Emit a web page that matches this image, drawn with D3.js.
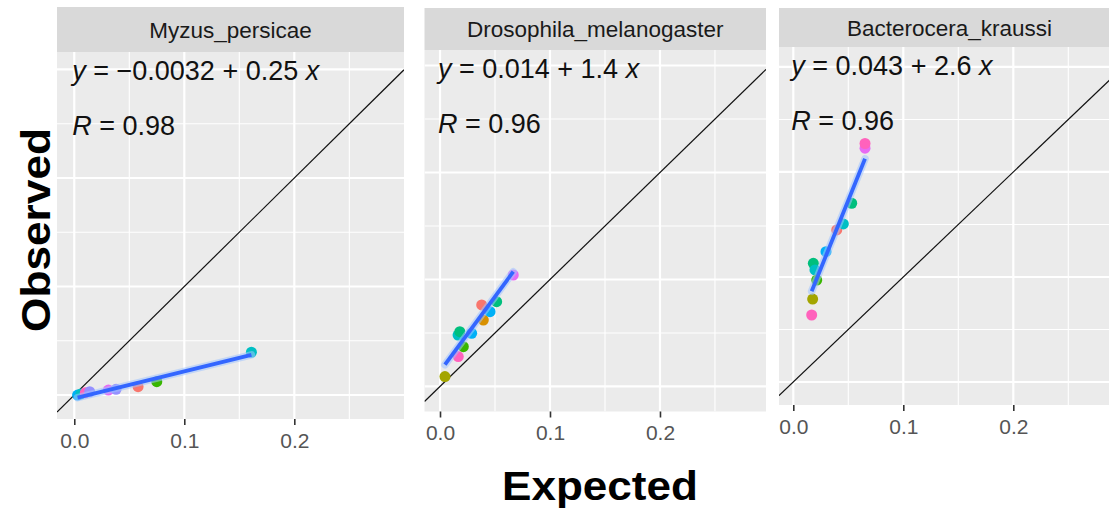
<!DOCTYPE html>
<html>
<head>
<meta charset="utf-8">
<script src="https://cdn.jsdelivr.net/npm/d3@7"></script>
<style>
  html, body { margin: 0; padding: 0; background: #fff; }
  svg { display: block; }
</style>
</head>
<body>
<svg id="chart" width="1109" height="512"></svg>
<script>
// facet names, one panel each
var facets = ['Myzus_persicae', 'Drosophila_melanogaster', 'Bacterocera_kraussi'];

// expected / observed pairs, group = colour level of each point
var myzusExpected = [0.003, 0.006, 0.010, 0.014, 0.031, 0.038, 0.058, 0.075, 0.161];
var myzusObserved = [0.000, 0.001, 0.002, 0.003, 0.0046, 0.0053, 0.0077, 0.0123, 0.0394];
var myzusGroup = [6, 5, 9, 7, 8, 7, 0, 3, 5];

var drosoExpected = [0.0045, 0.0166, 0.0164, 0.018, 0.0212, 0.0288, 0.0379, 0.0394, 0.0455, 0.0515, 0.0666];
var drosoObserved = [0.0092, 0.0279, 0.048, 0.0512, 0.0372, 0.0497, 0.0762, 0.0621, 0.0699, 0.0793, 0.1042];
var drosoGroup = [2, 9, 5, 4, 3, 6, 0, 1, 6, 4, 8];

var bactroExpected = [0.0167, 0.0176, 0.0182, 0.0197, 0.0213, 0.0297, 0.0395, 0.0455, 0.0531, 0.0652, 0.0652];
var bactroObserved = [0.0638, 0.079, 0.113, 0.1067, 0.0971, 0.1241, 0.1448, 0.1505, 0.1702, 0.2226, 0.2271];
var bactroGroup = [9, 2, 4, 5, 3, 6, 0, 5, 4, 8, 9];

// regression fits printed in each panel
var intercepts = [-0.0032, 0.014, 0.043];
var slopes = [0.25, 1.4, 2.6];
var interceptLabels = ['\u22120.0032', '0.014', '0.043'];
var slopeLabels = ['0.25', '1.4', '2.6'];
var rLabels = ['0.98', '0.96', '0.96'];

// axis breaks
var xTicks = [0, 0.1, 0.2];
var xTickLabels = ['0.0', '0.1', '0.2'];
var xMinor = [0.05, 0.15, 0.25];
var yMajor = [0, 0.1, 0.2, 0.3];
var yMinor = [0.05, 0.15, 0.25];

// ggplot hue palette, 10 levels
var palette = ['#F8766D', '#D89000', '#A3A500', '#39B600', '#00BF7D',
               '#00BFC4', '#00B0F6', '#9590FF', '#E76BF3', '#FF62BC'];

var series = [
    { x: myzusExpected, y: myzusObserved, g: myzusGroup },
    { x: drosoExpected, y: drosoObserved, g: drosoGroup },
    { x: bactroExpected, y: bactroObserved, g: bactroGroup }
];

// panel boxes (the three plots were pasted side by side, so they differ a bit)
var layout = [
    { left: 57, right: 404, top: 52, bottom: 419, stripTop: 7,
      xDomain: [-0.0157, 0.2997], yDomain: [-0.0221, 0.3161] },
    { left: 424.5, right: 766, top: 50, bottom: 411.5, stripTop: 8,
      xDomain: [-0.0141, 0.2964], yDomain: [-0.0234, 0.3145] },
    { left: 779, right: 1120, top: 47, bottom: 405, stripTop: 8,
      xDomain: [-0.0130, 0.2970], yDomain: [-0.0219, 0.3190] }
];

var svg = d3.select('#chart');
var font = '"Liberation Sans", Arial, sans-serif';

facets.forEach(function (name, i) {
    var box = layout[i],
        s = series[i],
        x = d3.scaleLinear().domain(box.xDomain).range([box.left, box.right]),
        y = d3.scaleLinear().domain(box.yDomain).range([box.bottom, box.top]),
        g = svg.append('g').attr('class', 'panel'),
        clipId = 'clip' + i;

    svg.append('defs').append('clipPath').attr('id', clipId)
        .append('rect')
        .attr('x', box.left).attr('y', box.top)
        .attr('width', box.right - box.left).attr('height', box.bottom - box.top);

    // panel background
    g.append('rect')
        .attr('x', box.left).attr('y', box.top)
        .attr('width', box.right - box.left).attr('height', box.bottom - box.top)
        .attr('fill', '#EBEBEB');

    // grid
    var grid = g.append('g').attr('clip-path', 'url(#' + clipId + ')');
    grid.selectAll('.xminor').data(xMinor).enter().append('line')
        .attr('x1', x).attr('x2', x).attr('y1', box.top).attr('y2', box.bottom)
        .attr('stroke', '#fff').attr('stroke-width', 1.1);
    grid.selectAll('.yminor').data(yMinor).enter().append('line')
        .attr('y1', y).attr('y2', y).attr('x1', box.left).attr('x2', box.right)
        .attr('stroke', '#fff').attr('stroke-width', 1.1);
    grid.selectAll('.xmajor').data(xTicks).enter().append('line')
        .attr('x1', x).attr('x2', x).attr('y1', box.top).attr('y2', box.bottom)
        .attr('stroke', '#fff').attr('stroke-width', 2.2);
    grid.selectAll('.ymajor').data(yMajor).enter().append('line')
        .attr('y1', y).attr('y2', y).attr('x1', box.left).attr('x2', box.right)
        .attr('stroke', '#fff').attr('stroke-width', 2.2);

    var plot = g.append('g').attr('clip-path', 'url(#' + clipId + ')');

    // 1:1 reference line
    plot.append('line')
        .attr('x1', x(box.xDomain[0])).attr('y1', y(box.xDomain[0]))
        .attr('x2', x(box.xDomain[1])).attr('y2', y(box.xDomain[1]))
        .attr('stroke', '#111').attr('stroke-width', 1.2);

    // points
    var idx = d3.range(s.x.length);
    plot.selectAll('circle').data(idx).enter().append('circle')
        .attr('cx', function (d) { return x(s.x[d]); })
        .attr('cy', function (d) { return y(s.y[d]); })
        .attr('r', 5.5)
        .attr('fill', function (d) { return palette[s.g[d]]; });

    // fitted line
    var ext = d3.extent(s.x),
        fit = ext.map(function (v) { return [v, intercepts[i] + slopes[i] * v]; }),
        line = d3.line().x(function (d) { return x(d[0]); }).y(function (d) { return y(d[1]); });
    plot.append('path').datum(fit).attr('d', line)
        .attr('fill', 'none').attr('stroke', '#9fc2ff').attr('stroke-opacity', 0.55)
        .attr('stroke-width', 7.5).attr('stroke-linecap', 'round');
    plot.append('path').datum(fit).attr('d', line)
        .attr('fill', 'none').attr('stroke', '#3366FF').attr('stroke-width', 3.8);

    // strip
    g.append('rect')
        .attr('x', box.left).attr('y', box.stripTop)
        .attr('width', box.right - box.left).attr('height', box.top - box.stripTop)
        .attr('fill', '#D9D9D9');
    g.append('text')
        .attr('x', (box.left + box.right) / 2)
        .attr('y', (box.stripTop + box.top) / 2)
        .attr('dy', '0.36em')
        .attr('text-anchor', 'middle')
        .attr('font-family', font).attr('font-size', 22.5)
        .attr('fill', '#1A1A1A')
        .text(name);

    // equation and correlation
    var eq = g.append('text')
        .attr('x', x(0) - 2).attr('y', box.top + 28)
        .attr('font-family', font).attr('font-size', 27).attr('fill', '#111');
    eq.append('tspan').attr('font-style', 'italic').text('y');
    eq.append('tspan').text(' = ' + interceptLabels[i] + ' + ' + slopeLabels[i] + ' ');
    eq.append('tspan').attr('font-style', 'italic').text('x');

    var rt = g.append('text')
        .attr('x', x(0) - 2).attr('y', box.top + 83)
        .attr('font-family', font).attr('font-size', 27).attr('fill', '#111');
    rt.append('tspan').attr('font-style', 'italic').text('R');
    rt.append('tspan').text(' = ' + rLabels[i]);

    // x axis
    var axis = g.append('g')
        .attr('transform', 'translate(0,' + box.bottom + ')')
        .call(d3.axisBottom(x).tickValues(xTicks)
            .tickFormat(function (d, k) { return xTickLabels[k]; })
            .tickSize(6).tickPadding(8));
    axis.select('.domain').remove();
    axis.selectAll('line').attr('stroke', '#333').attr('stroke-width', 1.6);
    axis.selectAll('text')
        .attr('font-family', font).attr('font-size', 21).attr('fill', '#555');
});

// axis titles
svg.append('text')
    .attr('transform', 'translate(50,230) rotate(-90)')
    .attr('text-anchor', 'middle')
    .attr('font-family', font).attr('font-weight', 'bold').attr('font-size', 40)
    .attr('textLength', 204).attr('lengthAdjust', 'spacingAndGlyphs')
    .attr('fill', '#000')
    .text('Observed');

svg.append('text')
    .attr('x', 600).attr('y', 500)
    .attr('text-anchor', 'middle')
    .attr('font-family', font).attr('font-weight', 'bold').attr('font-size', 40)
    .attr('textLength', 196).attr('lengthAdjust', 'spacingAndGlyphs')
    .attr('fill', '#000')
    .text('Expected');
</script>
</body>
</html>
